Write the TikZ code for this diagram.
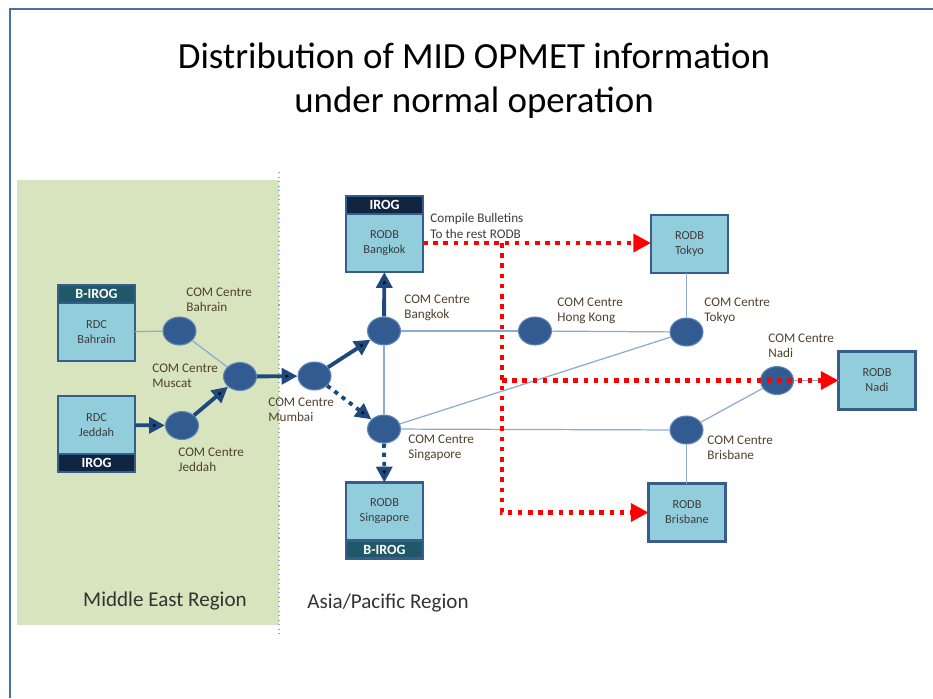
\documentclass[tikz,border=0pt]{standalone}
\usepackage{fontspec}
\setmainfont{Carlito}
\usetikzlibrary{arrows.meta,positioning,shapes.geometric}
\definecolor{boxfill}{RGB}{146,205,220}
\definecolor{boxline}{RGB}{54,93,140}
\definecolor{irogteal}{RGB}{33,88,103}
\definecolor{irognavy}{RGB}{16,37,63}
\definecolor{comfill}{RGB}{50,92,145}
\definecolor{comedge}{RGB}{95,135,185}
\definecolor{arrblue}{RGB}{31,73,125}
\definecolor{linkblue}{RGB}{140,170,210}
\definecolor{mefill}{RGB}{215,228,189}
\definecolor{frameblue}{RGB}{75,110,165}
\definecolor{lbltext}{RGB}{80,65,45}
\definecolor{boxtext}{RGB}{60,60,60}

\begin{document}
\begin{tikzpicture}[x=0.02cm,y=-0.02cm,
	rodb/.style={shape=rectangle,draw=boxline,line width=1.3pt,fill=boxfill,minimum width=1.54cm,minimum height=1.16cm,outer sep=0pt,inner sep=0pt,align=center,text=boxtext,font=\fontsize{7}{8.5}\selectfont},
	band/.style={shape=rectangle,draw=boxline,line width=1.3pt,minimum width=1.54cm,minimum height=0.36cm,outer sep=0pt,inner sep=0pt,text=white,font=\fontsize{8}{9}\selectfont\bfseries},
	com/.style={shape=ellipse,fill=comfill,draw=comedge,line width=0.6pt,minimum width=0.66cm,minimum height=0.56cm,inner sep=0pt},
	lbl/.style={anchor=west,inner sep=0pt,align=left,text=lbltext,font=\fontsize{7.5}{8.8}\selectfont},
	region/.style={text=black!80,font=\fontsize{12}{14}\selectfont},
	link/.style={draw=linkblue,line width=0.7pt},
	feed/.style={draw=arrblue,line width=2.2pt,-{Triangle[length=9pt,width=9pt]}},
	feeddot/.style={feed,dash pattern=on 2.4pt off 2.8pt},
	bull/.style={draw=red,line width=2.6pt,dash pattern=on 2.6pt off 3.2pt,-{Triangle[length=10pt,width=10pt]}}]
					\useasboundingbox (0,0) rectangle (933,698);
					\draw[frameblue,line width=1.5pt] (10,698) -- (10,9) -- (933,9);
					\fill[mefill] (17,180) rectangle (279,625);
					\draw[linkblue,line width=0.6pt,dotted] (279,172) -- (279,635);

					\node (title) at (474,81) [align=center,font=\fontsize{21}{25}\selectfont] {Distribution of MID OPMET information\\under normal operation};
					\node (mer) at (165,601) [region] {Middle East Region};
					\node (apr) at (388,603) [region] {Asia/Pacific Region};

					\node (rbah) [rodb] at (96.5,332) {RDC\\Bahrain};
					\node (hbah) [band,fill=irogteal] [above=0pt of rbah] {B-IROG};
					\node (rjed) [rodb] at (96.5,425) {RDC\\Jeddah};
					\node (fjed) [band,fill=irognavy] [below=0pt of rjed] {IROG};
					\node (rbkk) [rodb] at (384.5,243) {RODB\\Bangkok};
					\node (hbkk) [band,fill=irognavy] [above=0pt of rbkk] {IROG};
					\node (rsin) [rodb] at (384.5,511.5) {RODB\\Singapore};
					\node (fsin) [band,fill=irogteal] [below=0pt of rsin] {B-IROG};
					\node (rtyo) [rodb] at (689.5,244) {RODB\\Tokyo};
					\node (rnad) [rodb] at (877,380.5) {RODB\\Nadi};
					\node (rbne) [rodb] at (687,512.5) {RODB\\Brisbane};

					\node (cbah) [com] at (179.5,331) {};
					\node (cmus) [com] at (240,376.5) {};
					\node (cjed) [com] at (182,425.5) {};
					\node (cbom) [com] at (314.5,376) {};
					\node (cbkk) [com] at (384,331) {};
					\node (chkg) [com] at (535,331) {};
					\node (ctyo) [com] at (686.5,332) {};
					\node (cnad) [com] at (777,380.5) {};
					\node (csin) [com] at (384,429) {};
					\node (cbne) [com] at (686.5,430) {};

					\node (tbah) [lbl] at (186,300) {COM Centre\\Bahrain};
					\node (tmus) [lbl] at (152,376) {COM Centre\\Muscat};
					\node (tjed) [lbl] at (178,460) {COM Centre\\Jeddah};
					\node (tbom) [lbl] at (268,410) {COM Centre\\Mumbai};
					\node (tbkk) [lbl] at (404,308) {COM Centre\\Bangkok};
					\node (thkg) [lbl] at (557,311) {COM Centre\\Hong Kong};
					\node (ttyo) [lbl] at (704,311) {COM Centre\\Tokyo};
					\node (tnad) [lbl] at (768,346) {COM Centre\\Nadi};
					\node (tsin) [lbl] at (408,448) {COM Centre\\Singapore};
					\node (tbne) [lbl] at (707,448) {COM Centre\\Brisbane};
					\node (tbul) [lbl,text=boxtext] at (430,226) {Compile Bulletins\\To the rest RODB};

					\path[link] (rbah) edge (cbah) (cbah) edge (cmus) (cbkk) edge (chkg) (chkg) edge (ctyo)
						(ctyo) edge (ctyo |- rtyo.south) (cbkk) edge (csin) (csin) edge (ctyo) (csin) edge (cbne)
						(cbne) edge (cnad) (cbne) edge (cbne |- rbne.north) (cnad) edge (rnad);
					\path[feed] (rjed) edge (cjed) (cjed) edge (cmus) (cmus) edge (cbom) (cbom) edge (cbkk) (cbkk) edge (rbkk);
					\path[feeddot] (cbom) edge (csin) (csin) edge (rsin);

					\coordinate (split) at (502,243);
					\draw[bull] (rbkk.east) -- (rtyo.west |- rbkk.east);
					\draw[bull] (split) |- (rbne.west);
					\draw[bull] (split |- rnad.west) -- (rnad.west);
				\end{tikzpicture}
\end{document}
